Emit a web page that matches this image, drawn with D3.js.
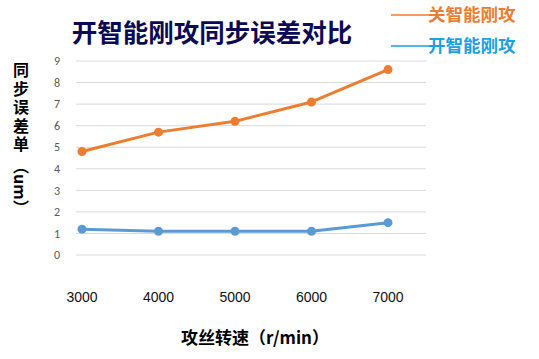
<!DOCTYPE html>
<html><head><meta charset="utf-8">
<script src="https://cdn.jsdelivr.net/npm/d3@7"></script>
<style>body{margin:0;background:#fff}svg{display:block}text{font-family:"Noto Sans CJK SC","Microsoft YaHei",sans-serif}</style>
</head><body>
<script>
const speeds = ["3000","4000","5000","6000","7000"];
const offValues = [4.8, 5.7, 6.2, 7.1, 8.6];   // 关智能刚攻
const onValues  = [1.2, 1.1, 1.1, 1.1, 1.5];   // 开智能刚攻
const yTicks = [0,1,2,3,4,5,6,7,8,9];
const seriesNames = ["关智能刚攻","开智能刚攻"];
const title = "开智能刚攻同步误差对比";
const yTitleMain = "同步误差单";
const yTitleUnit = "（um）";
const xTitle = "攻丝转速（r/min）";

const W = 539, H = 359;
const svg = d3.select("body").append("svg").attr("width", W).attr("height", H);

const x = d3.scalePoint().domain(speeds).range([82, 388]);
const y = d3.scaleLinear().domain([0, 9]).range([255, 61]);

// gridlines
svg.append("g").selectAll("line").data(yTicks).join("line")
  .attr("x1", 76).attr("x2", 426)
  .attr("y1", d => y(d)).attr("y2", d => y(d))
  .attr("stroke", "#d9d9d9").attr("stroke-width", 1);

// y tick labels
svg.append("g").selectAll("text").data(yTicks).join("text")
  .attr("x", 57).attr("y", d => y(d)).attr("dy", "0.35em")
  .attr("text-anchor", "middle").attr("fill", "#595959")
  .style("font-family", "Calibri, Carlito, 'Liberation Sans', sans-serif")
  .attr("font-size", 12).text(d => d);

// x tick labels
svg.append("g").selectAll("text").data(speeds).join("text")
  .attr("x", d => x(d)).attr("y", 302)
  .attr("text-anchor", "middle").attr("fill", "#111")
  .style("font-family", "'Liberation Sans', Arial, sans-serif")
  .attr("font-size", 14).text(d => d);

const series = [
  {name: seriesNames[0], values: offValues, color: "#ED7D31"},
  {name: seriesNames[1], values: onValues, color: "#5B9BD5"}
];
const line = d3.line().x((d,i) => x(speeds[i])).y(d => y(d));
series.forEach(s => {
  svg.append("path").datum(s.values).attr("d", line)
    .attr("fill", "none").attr("stroke", s.color).attr("stroke-width", 3)
    .attr("stroke-linejoin", "round");
  svg.append("g").selectAll("circle").data(s.values).join("circle")
    .attr("cx", (d,i) => x(speeds[i])).attr("cy", d => y(d))
    .attr("r", 4.5).attr("fill", s.color);
});

// title
svg.append("text").attr("x", 212).attr("y", 42).attr("text-anchor", "middle")
  .attr("font-size", 25.5).attr("font-weight", "bold").attr("fill", "#0a0a55")
  .text(title);

// legend
const legendColors = ["#ED7D31", "#1BA1E2"];
const legendY = [15, 46];
seriesNames.forEach((n, i) => {
  const g = svg.append("g");
  g.append("line").attr("x1", 391).attr("x2", 430)
    .attr("y1", legendY[i]).attr("y2", legendY[i])
    .attr("stroke", legendColors[i]).attr("stroke-width", 1.5);
  g.append("text").attr("x", 428).attr("y", legendY[i]).attr("dy", "0.36em")
    .attr("font-size", 17.5).attr("font-weight", "bold").attr("fill", legendColors[i])
    .text(n);
});

// y title (vertical writing)
const yt = svg.append("text").attr("x", 21).attr("y", 62)
  .attr("writing-mode", "vertical-rl")
  .style("writing-mode", "vertical-rl")
  .attr("font-size", 16).attr("font-weight", "bold").attr("fill", "#000");
yt.append("tspan").style("letter-spacing", "2.6px").text(yTitleMain);
yt.append("tspan").style("letter-spacing", "0px").attr("dy", 3).text(yTitleUnit);

// x title
svg.append("text").attr("x", 255).attr("y", 344).attr("text-anchor", "middle")
  .attr("font-size", 17).attr("font-weight", "bold").attr("fill", "#000")
  .text(xTitle);
</script>
</body></html>
